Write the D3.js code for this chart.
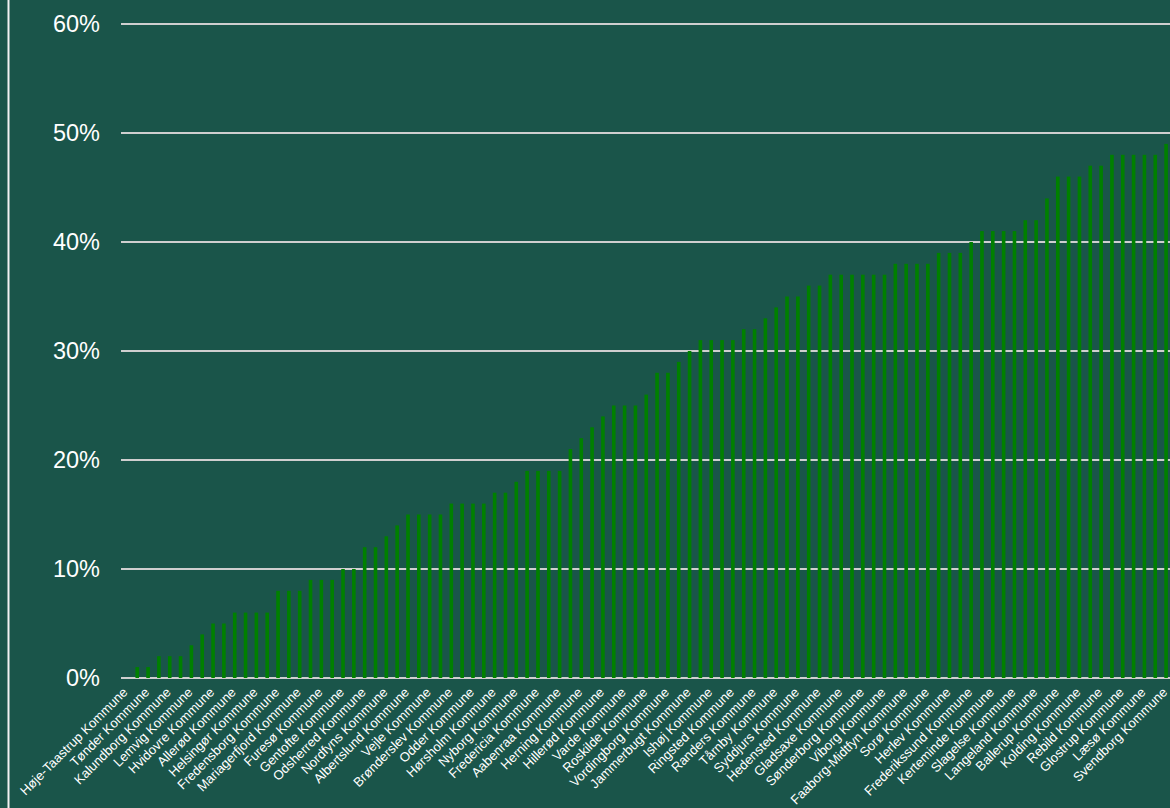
<!DOCTYPE html>
<html>
<head>
<meta charset="utf-8">
<script src="https://cdn.jsdelivr.net/npm/d3@7"></script>
<style>
  html, body { margin: 0; padding: 0; background: #1a554a; overflow: hidden; }
  svg { display: block; }
</style>
</head>
<body>
<svg id="chart" width="1170" height="808"></svg>
<script>
// Tick labels (every second municipality is labelled on the axis)
const labels = [
  "Høje-Taastrup Kommune", "Tønder Kommune", "Kalundborg Kommune", "Lemvig Kommune",
  "Hvidovre Kommune", "Allerød Kommune", "Helsingør Kommune", "Fredensborg Kommune",
  "Mariagerfjord Kommune", "Furesø Kommune", "Gentofte Kommune", "Odsherred Kommune",
  "Nordfyns Kommune", "Albertslund Kommune", "Vejle Kommune", "Brønderslev Kommune",
  "Odder Kommune", "Hørsholm Kommune", "Nyborg Kommune", "Fredericia Kommune",
  "Aabenraa Kommune", "Herning Kommune", "Hillerød Kommune", "Varde Kommune",
  "Roskilde Kommune", "Vordingborg Kommune", "Jammerbugt Kommune", "Ishøj Kommune",
  "Ringsted Kommune", "Randers Kommune", "Tårnby Kommune", "Syddjurs Kommune",
  "Hedensted Kommune", "Gladsaxe Kommune", "Sønderborg Kommune", "Viborg Kommune",
  "Faaborg-Midtfyn Kommune", "Sorø Kommune", "Herlev Kommune", "Frederikssund Kommune",
  "Kerteminde Kommune", "Slagelse Kommune", "Langeland Kommune", "Ballerup Kommune",
  "Kolding Kommune", "Rebild Kommune", "Glostrup Kommune", "Læsø Kommune",
  "Svendborg Kommune"
];

// Share (%) for each bar, in display order
const values = [
  0, 1, 1, 2, 2, 2, 3, 4, 5, 5,
  6, 6, 6, 6, 8, 8, 8, 9, 9, 9,
  10, 10, 12, 12, 13, 14, 15, 15, 15, 15,
  16, 16, 16, 16, 17, 17, 18, 19, 19, 19,
  19, 21, 22, 23, 24, 25, 25, 25, 26, 28,
  28, 29, 30, 31, 31, 31, 31, 32, 32, 33,
  34, 35, 35, 36, 36, 37, 37, 37, 37, 37,
  37, 38, 38, 38, 38, 39, 39, 39, 40, 41,
  41, 41, 41, 42, 42, 44, 46, 46, 46, 47,
  47, 48, 48, 48, 48, 48, 49
];

const yTicks = [0, 10, 20, 30, 40, 50, 60];

const svg = d3.select("#chart");
const W = 1170, H = 808;

svg.append("rect").attr("width", W).attr("height", H).attr("fill", "#1a554a");

// left border line
svg.append("line")
  .attr("x1", 8.5).attr("x2", 8.5).attr("y1", 0).attr("y2", H)
  .attr("stroke", "#f2f2f2").attr("stroke-width", 2);

const plotLeft = 121, plotRight = 1171.5;
const x = d3.scaleBand().domain(d3.range(values.length)).range([plotLeft, plotRight]).padding(0);
const y = d3.scaleLinear().domain([0, 60]).range([678, 24]);

// gridlines
svg.append("g").selectAll("line").data(yTicks).join("line")
  .attr("x1", plotLeft).attr("x2", W)
  .attr("y1", d => y(d)).attr("y2", d => y(d))
  .attr("stroke", "#cfcfcf").attr("stroke-width", 2);

// y labels
svg.append("g").selectAll("text").data(yTicks).join("text")
  .attr("x", 100).attr("y", d => y(d)).attr("dy", "0.36em")
  .attr("text-anchor", "end")
  .attr("fill", "#ffffff")
  .attr("font-family", "Liberation Sans, Arial, sans-serif")
  .attr("font-size", 23.5)
  .text(d => d + "%");

// bars
const bw = 3.6;
svg.append("g").selectAll("rect").data(values).join("rect")
  .attr("x", (d, i) => x(i) + x.bandwidth() / 2 - bw / 2)
  .attr("width", bw)
  .attr("y", d => y(d))
  .attr("height", d => y(0) - y(d))
  .attr("fill", "#008000");

// x labels
svg.append("g").selectAll("text").data(labels).join("text")
  .attr("transform", (d, j) => {
    const cx = x(j * 2) + x.bandwidth() / 2;
    return `translate(${cx + 2},${693}) rotate(-45)`;
  })
  .attr("text-anchor", "end")
  .attr("fill", "#ffffff")
  .attr("font-family", "Liberation Sans, Arial, sans-serif")
  .attr("font-size", 13.1)
  .text(d => d);
</script>
</body>
</html>
